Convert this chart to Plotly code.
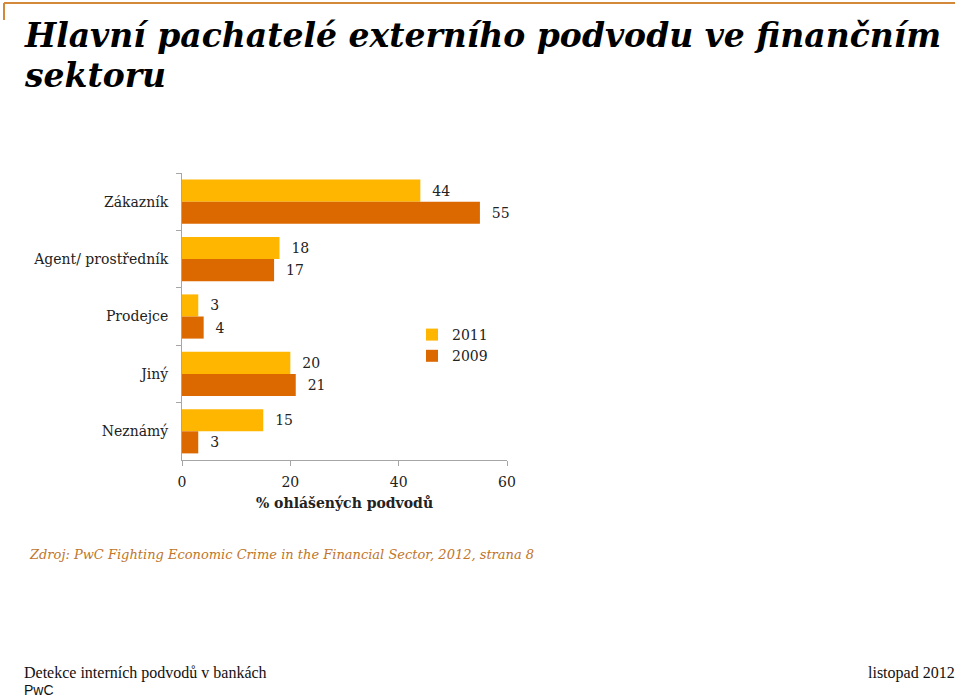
import plotly.graph_objects as go

categories = ["Zákazník", "Agent/ prostředník", "Prodejce", "Jiný", "Neznámý"]
values_2011 = [44, 18, 3, 20, 15]
values_2009 = [55, 17, 4, 21, 3]
x_ticks = [0, 20, 40, 60]

W, H = 960, 697
L, R, T, B = 182, 507, 173, 460  # plot area in px

def px(x):
    return (x - L) / (R - L)

def py(y):
    return (B - y) / (B - T)

C2011 = "#FFB600"
C2009 = "#DC6900"
SERIF = "Georgia, DejaVu Serif, serif"
TXT = "#222222"

fig = go.Figure()
fig.add_trace(go.Bar(
    y=categories, x=values_2011, name="2011", orientation="h",
    marker=dict(color=C2011, line=dict(width=0)),
    texttemplate="\u00a0\u00a0%{x}", textposition="outside",
    textfont=dict(family=SERIF, size=14, color=TXT), cliponaxis=False,
))
fig.add_trace(go.Bar(
    y=categories, x=values_2009, name="2009", orientation="h",
    marker=dict(color=C2009, line=dict(width=0)),
    texttemplate="\u00a0\u00a0%{x}", textposition="outside",
    textfont=dict(family=SERIF, size=14, color=TXT), cliponaxis=False,
))

fig.update_layout(
    width=W, height=H,
    margin=dict(l=L, r=W - R, t=T, b=H - B, pad=0),
    paper_bgcolor="white", plot_bgcolor="white",
    barmode="group", bargap=0.23, bargroupgap=0,
    showlegend=True,
    legend=dict(x=px(412), y=py(319), xanchor="left", yanchor="top",
                font=dict(family=SERIF, size=14, color=TXT),
                bgcolor="rgba(0,0,0,0)", traceorder="normal",
                itemwidth=30, tracegroupgap=0),
    xaxis=dict(range=[0, 60], tickvals=x_ticks, showgrid=False, zeroline=False,
               showline=True, linecolor="#A6A6A6", linewidth=1,
               ticks="outside", ticklen=5, tickcolor="#A6A6A6",
               ticklabelstandoff=4,
               tickfont=dict(family=SERIF, size=14, color=TXT),
               title=dict(text="<b>% ohlášených podvodů</b>",
                          font=dict(family=SERIF, size=14, color=TXT), standoff=9)),
    yaxis=dict(autorange="reversed", showgrid=False, zeroline=False,
               showline=True, linecolor="#A6A6A6", linewidth=1,
               ticks="outside", ticklen=5, tickcolor="#A6A6A6",
               tickson="boundaries", ticklabelstandoff=10,
               tickfont=dict(family=SERIF, size=14, color=TXT)),
    font=dict(family=SERIF, color=TXT),
)

annos = [
    dict(text="<b><i>Hlavní pachatelé externího podvodu ve finančním</i></b>",
         x=px(22), y=py(36), size=33, color="#000000", xanchor="left", fam=SERIF),
    dict(text="<b><i>sektoru</i></b>",
         x=px(22), y=py(76), size=33, color="#000000", xanchor="left", fam=SERIF),
    dict(text="<i>Zdroj: PwC Fighting Economic Crime in the Financial Sector, 2012, strana 8</i>",
         x=px(27), y=py(554), size=13, color="#C0752A", xanchor="left", fam=SERIF),
    dict(text="Detekce interních podvodů v bankách",
         x=px(22), y=py(673), size=16, color="#111111", xanchor="left",
         fam="Liberation Serif, serif"),
    dict(text="listopad 2012",
         x=px(957), y=py(673), size=16, color="#111111", xanchor="right",
         fam="Liberation Serif, serif"),
    dict(text="PwC",
         x=px(22), y=py(690), size=14, color="#111111", xanchor="left",
         fam="Liberation Sans, Arial, sans-serif"),
]
for a in annos:
    fig.add_annotation(text=a["text"], x=a["x"], y=a["y"], xref="paper", yref="paper",
                       xanchor=a["xanchor"], yanchor="middle", showarrow=False,
                       font=dict(family=a["fam"], size=a["size"], color=a["color"]))

fig.add_shape(type="line", xref="paper", yref="paper",
              x0=px(4), x1=px(955), y0=py(3), y1=py(3),
              line=dict(color="#D4893A", width=2))
fig.add_shape(type="line", xref="paper", yref="paper",
              x0=px(4), x1=px(4), y0=py(3), y1=py(20),
              line=dict(color="#D4893A", width=2))

fig.write_html("out.html", config={"displayModeBar": False},
               post_script="document.body.style.margin='0';document.body.style.padding='0';")
